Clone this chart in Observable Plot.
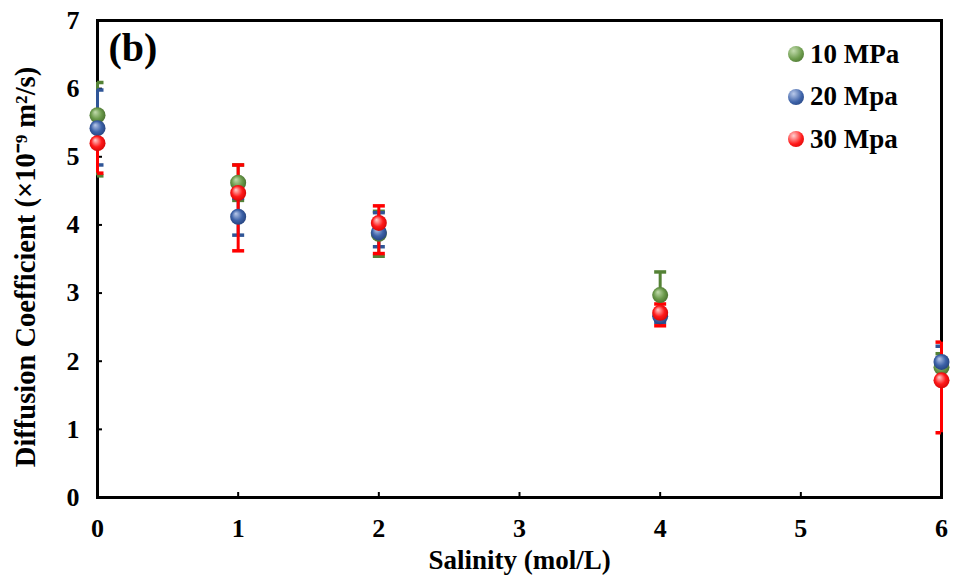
<!DOCTYPE html>
<html>
<head>
<meta charset="utf-8">
<script src="https://cdn.jsdelivr.net/npm/d3@7"></script>
<script src="https://cdn.jsdelivr.net/npm/@observablehq/plot@0.6"></script>
<style>
  html, body { margin: 0; padding: 0; background: #fff; }
  #wrap { position: relative; width: 953px; height: 582px; font-family: "Liberation Serif", "Times New Roman", serif; }
  #legend { position: absolute; left: 788px; top: 33px; font-weight: bold; font-size: 27px; }
  #legend .row { display: flex; align-items: center; height: 42.5px; }
  #legend .sw { width: 16px; height: 16px; border-radius: 50%; margin-right: 6px; }
</style>
</head>
<body>
<div id="wrap"><div id="legend"></div></div>
<script>
// ---- data ----
const salinity = [0, 1, 2, 4, 6];
const seriesNames = ["10 MPa", "20 Mpa", "30 Mpa"];
const mean10 = [5.61, 4.62, 3.87, 2.97, 1.91];
const hi10   = [6.09, 4.88, 4.20, 3.31, 2.11];
const lo10   = [4.72, 4.36, 3.54, 2.63, 1.71];
const mean20 = [5.42, 4.12, 3.89, 2.66, 1.99];
const hi20   = [5.98, 4.39, 4.18, 2.75, 2.22];
const lo20   = [4.88, 3.85, 3.68, 2.57, 1.76];
const mean30 = [5.20, 4.47, 4.03, 2.71, 1.72];
const hi30   = [5.65, 4.88, 4.28, 2.84, 2.28];
const lo30   = [4.76, 3.62, 3.58, 2.52, 0.95];
const xTicks = [0, 1, 2, 3, 4, 5, 6];
const yTicks = [0, 1, 2, 3, 4, 5, 6, 7];
const xTitle = "Salinity (mol/L)";
const yTitle = "Diffusion Coefficient (×10⁻⁹ m²/s)";
const panelTag = "(b)";

const colors = ["#548235", "#2f5597", "#ff0000"];
const gradIds = ["gGreen", "gBlue", "gRed"];
const gradStops = [
  ["#c3dcae", "#6b9a4b", "#3f6526"],
  ["#b9c9ea", "#3d62a8", "#1f3b73"],
  ["#ffd0d0", "#ff1a1a", "#c80000"]
];

const means = [mean10, mean20, mean30];
const his = [hi10, hi20, hi30];
const los = [lo10, lo20, lo30];
const series = seriesNames.map((name, s) =>
  salinity.map((x, i) => ({x, y: means[s][i], hi: his[s][i], lo: los[s][i], s}))
);

const capSymbol = { draw(ctx) { ctx.moveTo(-6, 0); ctx.lineTo(6, 0); } };

const marks = [];
series.forEach((d, s) => {
  marks.push(Plot.ruleX(d, {x: "x", y1: "lo", y2: "hi", stroke: colors[s], strokeWidth: 3}));
  marks.push(Plot.dot(d, {x: "x", y: "hi", symbol: capSymbol, stroke: colors[s], strokeWidth: 3.5, fill: "none", clip: "frame"}));
  marks.push(Plot.dot(d, {x: "x", y: "lo", symbol: capSymbol, stroke: colors[s], strokeWidth: 3.5, fill: "none", clip: "frame"}));
});
series.forEach((d, s) => {
  marks.push(Plot.dot(d, {x: "x", y: "y", r: 8, fill: `url(#${gradIds[s]})`, stroke: "none"}));
});

const chart = Plot.plot({
  width: 953,
  height: 582,
  marginLeft: 97,
  marginRight: 12,
  marginTop: 20,
  marginBottom: 85,
  style: {fontFamily: "'Liberation Serif', 'Times New Roman', serif", fontWeight: "bold", color: "#000", background: "#fff"},
  x: {domain: [0, 6]},
  y: {domain: [0, 7]},
  marks: [
    Plot.axisX({ticks: xTicks, tickSize: -5, tickPadding: 26, tickFormat: d3.format("d"), fontSize: 26, label: null, strokeWidth: 2}),
    Plot.axisY({ticks: yTicks, tickSize: -5, tickPadding: 23, tickFormat: d3.format("d"), fontSize: 26, label: null, strokeWidth: 2}),
    Plot.frame({stroke: "#000", strokeWidth: 3}),
    ...marks,
    Plot.text([xTitle], {text: d => d, frameAnchor: "bottom", dy: 71, fontSize: 27, fontWeight: "bold"}),
    Plot.text([yTitle], {text: d => d, frameAnchor: "left", textAnchor: "middle", rotate: -90, dx: -72, dy: 8, fontSize: 28.5, fontWeight: "bold"}),
    Plot.text([panelTag], {text: d => d, frameAnchor: "top-left", dx: 11, dy: 12, textAnchor: "start", lineAnchor: "top", fontSize: 40, fontWeight: "bold"})
  ]
});

// radial gradients for the shaded spheres
const svg = d3.select(chart);
const defs = svg.insert("defs", ":first-child");
gradIds.forEach((id, s) => {
  const g = defs.append("radialGradient").attr("id", id)
    .attr("cx", "0.5").attr("cy", "0.5").attr("r", "0.6")
    .attr("fx", "0.35").attr("fy", "0.3");
  g.append("stop").attr("offset", "0").attr("stop-color", gradStops[s][0]);
  g.append("stop").attr("offset", "0.55").attr("stop-color", gradStops[s][1]);
  g.append("stop").attr("offset", "1").attr("stop-color", gradStops[s][2]);
});

document.getElementById("wrap").prepend(chart);

// legend
const legend = d3.select("#legend");
seriesNames.forEach((name, s) => {
  const row = legend.append("div").attr("class", "row");
  row.append("div").attr("class", "sw")
    .style("background", `radial-gradient(circle at 35% 30%, ${gradStops[s][0]} 0%, ${gradStops[s][1]} 55%, ${gradStops[s][2]} 100%)`);
  row.append("span").text(name);
});
</script>
</body>
</html>
